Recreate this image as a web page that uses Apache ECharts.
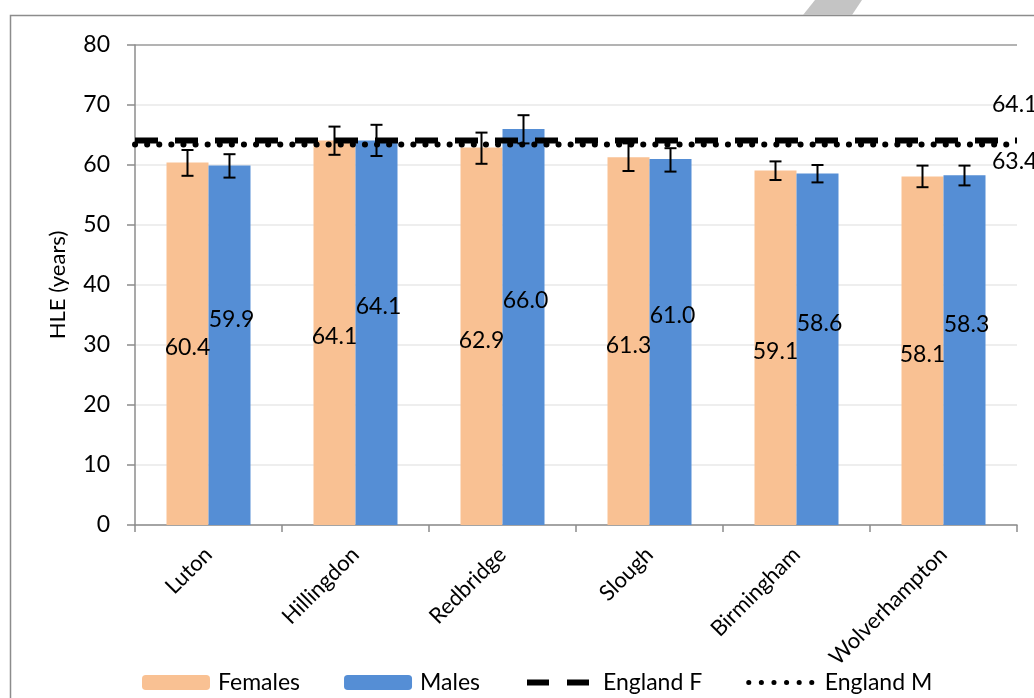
<!DOCTYPE html>
<html>
<head>
<meta charset="utf-8">
<script src="https://cdn.jsdelivr.net/npm/echarts@6/dist/echarts.min.js"></script>
<style>
html,body{margin:0;padding:0;background:#fff;}
#chart{width:1034px;height:698px;}
</style>
</head>
<body>
<div id="chart"></div>
<script>
const categories = ['Luton', 'Hillingdon', 'Redbridge', 'Slough', 'Birmingham', 'Wolverhampton'];
const females = [60.4, 64.1, 62.9, 61.3, 59.1, 58.1];
const males = [59.9, 64.1, 66.0, 61.0, 58.6, 58.3];
const femalesLow = [58.2, 61.7, 60.2, 59.0, 57.5, 56.3];
const femalesHigh = [62.5, 66.4, 65.4, 63.6, 60.6, 59.9];
const malesLow = [57.9, 61.5, 63.6, 58.9, 57.1, 56.6];
const malesHigh = [61.8, 66.7, 68.3, 62.8, 60.0, 59.9];
const englandF = 64.1;
const englandM = 63.4;
const yTicks = [0, 10, 20, 30, 40, 50, 60, 70, 80];

const FONT = 'Lato';
const BAR_W = 42;

function errorSeries(name, low, high, shift) {
  return {
    type: 'custom',
    name: name,
    xAxisIndex: 0,
    z: 4,
    silent: true,
    data: low.map((l, i) => [i, l, high[i]]),
    renderItem: function (params, api) {
      const i = api.value(0);
      const p1 = api.coord([i, api.value(1)]);
      const p2 = api.coord([i, api.value(2)]);
      const x = p1[0] + shift;
      const cap = 6;
      const style = { stroke: '#000', lineWidth: 2 };
      return {
        type: 'group',
        children: [
          { type: 'line', shape: { x1: x, y1: p1[1], x2: x, y2: p2[1] }, style: style },
          { type: 'line', shape: { x1: x - cap, y1: p1[1], x2: x + cap, y2: p1[1] }, style: style },
          { type: 'line', shape: { x1: x - cap, y1: p2[1], x2: x + cap, y2: p2[1] }, style: style }
        ]
      };
    }
  };
}

const chart = echarts.init(document.getElementById('chart'), null, { renderer: 'canvas' });
chart.setOption({
  animation: false,
  textStyle: { fontFamily: FONT },
  graphic: [
    { type: 'rect', shape: { x: 10.5, y: 15.5, width: 1040, height: 700 }, style: { fill: 'none', stroke: '#8c8c8c', lineWidth: 1.5 }, z: 0 },
    { type: 'polygon', shape: { points: [[803, 15], [852, 15], [862, 0], [815, 0]] }, style: { fill: '#c4c4c4' }, z: 0 }
  ],
  grid: { left: 135, right: 17, top: 45, bottom: 173, containLabel: false },
  legend: {
    left: 137,
    top: 666,
    itemWidth: 68,
    itemHeight: 15,
    itemGap: 44,
    textStyle: { fontFamily: FONT, fontSize: 23, color: '#000', padding: [0, 0, 0, 3] },
    data: [
      'Females',
      'Males',
      { name: 'England F', itemStyle: { opacity: 0 }, lineStyle: { width: 6, type: [22, 18], color: '#000' } },
      { name: 'England M', itemStyle: { opacity: 0 }, lineStyle: { width: 5, type: [0.1, 12.5], cap: 'round', color: '#000' } }
    ]
  },
  xAxis: [
    {
      type: 'category',
      data: categories,
      axisLine: { lineStyle: { color: '#8c8c8c', width: 1.5 } },
      axisTick: { show: true, length: 7, lineStyle: { color: '#8c8c8c', width: 1.5 } },
      axisLabel: { rotate: 45, fontSize: 22, color: '#000', margin: 26, fontFamily: FONT }
    },
    {
      type: 'category',
      data: categories,
      boundaryGap: false,
      show: false
    }
  ],
  yAxis: {
    type: 'value',
    min: 0,
    max: 80,
    interval: 10,
    name: 'HLE (years)',
    nameLocation: 'middle',
    nameGap: 66,
    nameTextStyle: { fontSize: 22, color: '#000', fontFamily: FONT },
    axisLine: { show: true, lineStyle: { color: '#8c8c8c', width: 1.5 } },
    axisTick: { show: true, length: 8, lineStyle: { color: '#8c8c8c', width: 1.5 } },
    axisLabel: { fontSize: 23, color: '#000', margin: 25, fontFamily: FONT,
      formatter: v => yTicks.includes(v) ? String(v) : '' },
    splitLine: { show: true, lineStyle: { color: ['#e8e8e8','#e8e8e8','#e8e8e8','#e8e8e8','#e8e8e8','#e8e8e8','#e8e8e8','#e8e8e8','#9a9a9a'], width: 1.5 } }
  },
  series: [
    {
      name: 'Females',
      type: 'bar',
      data: females,
      barWidth: BAR_W,
      barGap: '0%',
      itemStyle: { color: '#f9c193' },
      label: { show: true, position: 'inside', offset: [0, 4], fontSize: 23, color: '#000', fontFamily: FONT,
        formatter: p => p.value.toFixed(1) },
      z: 2
    },
    {
      name: 'Males',
      type: 'bar',
      data: males,
      barWidth: BAR_W,
      barGap: '0%',
      itemStyle: { color: '#558ed5' },
      label: { show: true, position: 'inside', offset: [2, -26], fontSize: 23, color: '#000', fontFamily: FONT,
        formatter: p => p.value.toFixed(1) },
      z: 2
    },
    errorSeries('Females error', femalesLow, femalesHigh, -BAR_W / 2),
    errorSeries('Males error', malesLow, malesHigh, BAR_W / 2),
    {
      name: 'England F',
      type: 'line',
      xAxisIndex: 1,
      data: categories.map(() => englandF),
      symbol: 'none',
      z: 5,
      lineStyle: { color: '#000', width: 6, type: [23, 17] },
      itemStyle: { color: '#000' },
      endLabel: { show: true, offset: [-28, -36], distance: 3, fontSize: 23, color: '#000', fontFamily: FONT,
        formatter: p => englandF.toFixed(1) }
    },
    {
      name: 'England M',
      type: 'line',
      xAxisIndex: 1,
      data: categories.map(() => englandM),
      symbol: 'none',
      z: 5,
      lineStyle: { color: '#000', width: 6, type: [0.1, 12], cap: 'round' },
      itemStyle: { color: '#000' },
      endLabel: { show: true, offset: [-28, 17], distance: 3, fontSize: 23, color: '#000', fontFamily: FONT,
        formatter: p => englandM.toFixed(1) }
    }
  ]
});
</script>
</body>
</html>
